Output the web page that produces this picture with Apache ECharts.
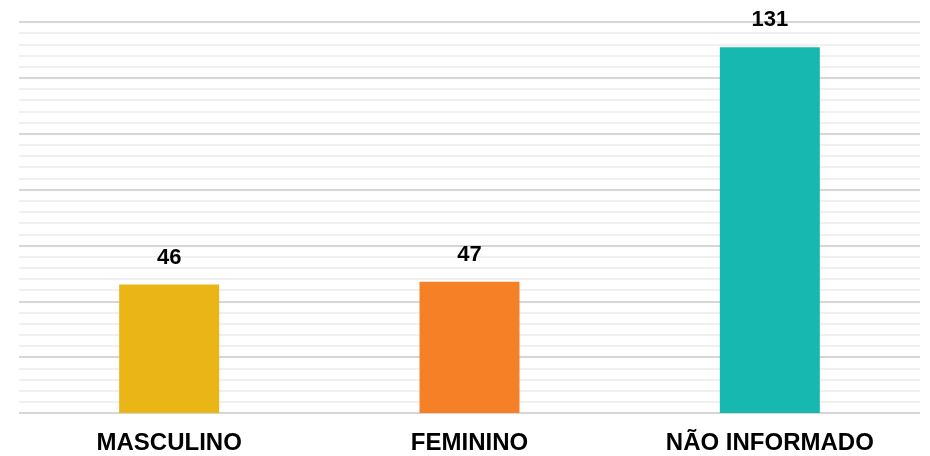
<!DOCTYPE html>
<html>
<head>
<meta charset="utf-8">
<script src="https://cdn.jsdelivr.net/npm/echarts@6/dist/echarts.min.js"></script>
<style>
  html, body { margin: 0; padding: 0; background: #fff; }
  #chart { width: 930px; height: 456px; }
</style>
</head>
<body>
<div id="chart"></div>
<script>
const categories = ['MASCULINO', 'FEMININO', 'NÃO INFORMADO']
const values = [46, 47, 131]
const barColors = ['#EAB516', '#F58026', '#17B8B0']

const chart = echarts.init(document.getElementById('chart'))
chart.setOption({
  animation: false,
  grid: { left: 19, right: 10, top: 22, bottom: 43 },
  xAxis: {
    type: 'category',
    data: categories,
    axisTick: { show: false },
    axisLine: { show: false },
    axisLabel: {
      color: '#000',
      fontFamily: 'Liberation Sans',
      fontWeight: 'bold',
      fontSize: 24,
      margin: 18,
    },
  },
  yAxis: {
    type: 'value',
    min: 0,
    max: 140,
    interval: 20,
    axisLabel: { show: false },
    axisLine: { show: false },
    axisTick: { show: false },
    splitLine: { lineStyle: { color: '#d6d6d6', width: 2 } },
    minorTick: { show: false, splitNumber: 5 },
    minorSplitLine: { show: true, lineStyle: { color: '#ebebeb', width: 1.5 } },
  },
  series: [
    {
      type: 'bar',
      barWidth: 100,
      data: values.map((v, i) => ({ value: v, itemStyle: { color: barColors[i] } })),
      label: {
        show: true,
        position: 'top',
        distance: 16,
        color: '#000',
        fontFamily: 'Liberation Sans',
        fontWeight: 'bold',
        fontSize: 22,
      },
    },
  ],
})
</script>
</body>
</html>
